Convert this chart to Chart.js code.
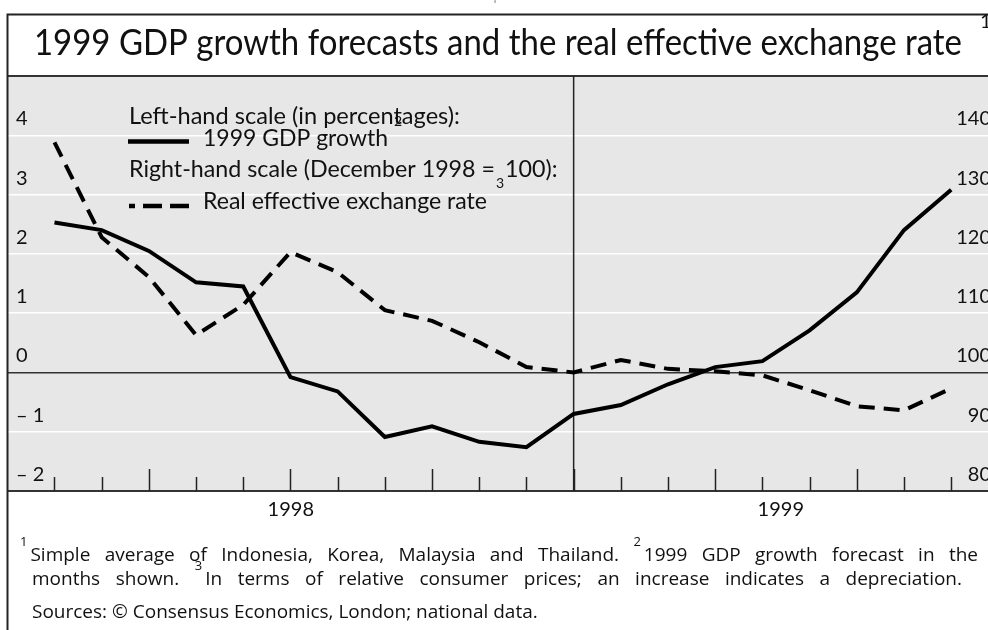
<!DOCTYPE html>
<html><head><meta charset="utf-8">
<script src="https://cdn.jsdelivr.net/npm/chart.js@4.4.1/dist/chart.umd.min.js"></script>
<style>
html,body{margin:0;padding:0;background:#fff;overflow:hidden}
#wrap{position:relative;width:988px;height:630px}
canvas{display:block}
</style>
</head><body><div id="wrap"><canvas id="c" width="988" height="630"></canvas></div>
<script>
// ---- data ----
const months = ['Jan 1998','Feb 1998','Mar 1998','Apr 1998','May 1998','Jun 1998','Jul 1998','Aug 1998','Sep 1998','Oct 1998','Nov 1998','Dec 1998',
                'Jan 1999','Feb 1999','Mar 1999','Apr 1999','May 1999','Jun 1999','Jul 1999','Aug 1999'];
const gdpGrowth = [2.53, 2.40, 2.05, 1.52, 1.45, -0.08, -0.32, -1.09, -0.91, -1.17, -1.26, -0.70,
                   -0.55, -0.20, 0.09, 0.19, 0.71, 1.35, 2.40, 3.08];
const reer = [138.8, 122.8, 116.1, 106.3, 111.4, 120.3, 116.9, 110.5, 108.7, 105.1, 100.9, 100.0,
              102.1, 100.6, 100.2, 99.5, 97.0, 94.3, 93.6, 97.3];
const leftTicks = [4, 3, 2, 1, 0, -1, -2];
const rightTicks = [140, 130, 120, 110, 100, 90, 80];
const yearLabels = ['1998', '1999'];
const baseMonth = 'Dec 1998';

const title = '1999 GDP growth forecasts and the real effective exchange rate';
const FONT = 'Lato, "Open Sans", "Noto Sans", sans-serif';
const FN_FONT = '"Open Sans", "Noto Sans", sans-serif';

function fitText(ctx, text, x, y, size, width, align) {
  ctx.save();
  ctx.font = size + 'px ' + FONT;
  const w = ctx.measureText(text).width;
  const s = width ? width / w : 1;
  ctx.translate(x, y);
  ctx.scale(s, 1);
  ctx.textAlign = align || 'left';
  ctx.textBaseline = 'alphabetic';
  ctx.fillText(text, 0, 0);
  ctx.restore();
  return s;
}
function txt(ctx, text, x, y, size, align, scale, family) {
  ctx.save();
  ctx.font = size + 'px ' + (family || FONT);
  ctx.translate(x, y);
  ctx.scale(scale || 1, 1);
  ctx.textAlign = align || 'left';
  ctx.textBaseline = 'alphabetic';
  ctx.fillText(text, 0, 0);
  ctx.restore();
}
// justified line: words (with optional superscript prefix "^n ") spread between x0 and x1
function justify(ctx, units, x0, x1, y, size, supSize) {
  ctx.save();
  const m = (t, s) => { ctx.font = s + 'px ' + FN_FONT; return ctx.measureText(t).width; };
  const parts = units.map(u => {
    const sup = u.sup || null;
    const sw = sup ? m(sup, supSize) + 3 : 0;
    return {sup, sw, word: u.w, ww: m(u.w, size)};
  });
  const total = parts.reduce((p, c) => p + c.sw + c.ww, 0);
  const gap = parts.length > 1 ? (x1 - x0 - total) / (parts.length - 1) : 0;
  let cx = x0;
  parts.forEach(p => {
    if (p.sup) txt(ctx, p.sup, cx, y - 15, supSize, 'left', 1, FN_FONT);
    txt(ctx, p.word, cx + p.sw, y, size, 'left', 1, FN_FONT);
    cx += p.sw + p.ww + gap;
  });
  ctx.restore();
}
const W = s => s.split(' ').map(w => ({w}));

const decoPlugin = {
  id: 'deco',
  beforeDraw(chart) {
    const {ctx, chartArea: a} = chart;
    ctx.save();
    ctx.fillStyle = '#fff';
    ctx.fillRect(0, 0, chart.width, chart.height);
    ctx.fillStyle = '#e7e7e7';
    ctx.fillRect(a.left, a.top, a.right - a.left, a.bottom - a.top);
    ctx.restore();
  },
  beforeDatasetsDraw(chart) {
    const {ctx, chartArea: a, scales: {x}} = chart;
    ctx.save();
    ctx.strokeStyle = '#222';
    for (let i = 0; i <= months.length; i++) {
      const px = Math.round(x.getPixelForValue(i)) + 0.5;
      if (px > a.right) break;
      const tall = (i % 3) === 2;
      ctx.lineWidth = 1.5;
      ctx.beginPath();
      ctx.moveTo(px, a.bottom);
      ctx.lineTo(px, a.bottom - (tall ? 22 : 14));
      ctx.stroke();
    }
    const bx = x.getPixelForValue(months.indexOf(baseMonth));
    ctx.lineWidth = 1.5;
    ctx.beginPath();
    ctx.moveTo(bx, a.top);
    ctx.lineTo(bx, a.bottom);
    ctx.stroke();
    ctx.restore();
  },
  afterDraw(chart) {
    const {ctx, chartArea: a, scales: {x, y, y2}} = chart;
    ctx.save();
    // frame
    ctx.strokeStyle = '#222';
    ctx.lineWidth = 2;
    ctx.beginPath();
    ctx.moveTo(7.5, 630); ctx.lineTo(7.5, 14.5); ctx.lineTo(988, 14.5);
    ctx.stroke();
    // faint heading at very top (mostly cut off)
    ctx.fillStyle = '#aaa';
    txt(ctx, 'Graph', 468, 0, 16);
    ctx.fillStyle = '#111';
    // title
    fitText(ctx, title, 34, 55, 36, 928);
    txt(ctx, '1', 980, 28, 20);
    // y tick labels
    leftTicks.forEach(v => {
      const py = y.getPixelForValue(v);
      const lab = v < 0 ? '\u2013 ' + Math.abs(v) : String(v);
      txt(ctx, lab, a.left + 8, py - 10, 20);
    });
    rightTicks.forEach(v => {
      const py = y2.getPixelForValue(v);
      txt(ctx, String(v), 991, py - 10, 20, 'right');
    });
    // year labels
    const bx = x.getPixelForValue(months.indexOf(baseMonth));
    txt(ctx, yearLabels[0], (a.left + bx) / 2, 516, 20, 'center');
    txt(ctx, yearLabels[1], (bx + a.right) / 2, 516, 20, 'center');
    // legend
    fitText(ctx, 'Left-hand scale (in percentages):', 129, 124, 23, 331);
    ctx.strokeStyle = '#000';
    ctx.lineWidth = 4.5;
    ctx.beginPath(); ctx.moveTo(128, 141.5); ctx.lineTo(189, 141.5); ctx.stroke();
    fitText(ctx, '1999 GDP growth', 203, 146, 23, 185);
    txt(ctx, '2', 394, 126, 14);
    const s = fitText(ctx, 'Right-hand scale (December 1998 =', 129, 177, 23, 366);
    txt(ctx, '3', 496, 188, 14);
    txt(ctx, '100):', 505, 177, 23, 'left', s);
    ctx.setLineDash([19, 8]);
    ctx.lineDashOffset = 13;
    ctx.beginPath(); ctx.moveTo(129, 206); ctx.lineTo(189, 206); ctx.stroke();
    ctx.setLineDash([]);
    fitText(ctx, 'Real effective exchange rate', 203, 209, 23, 284);
    // footnotes
    const FS = 19;
    const l1 = [{sup: '1', w: 'Simple'}].concat(W('average of Indonesia, Korea, Malaysia and Thailand.'),
               [{sup: '2', w: '1999'}], W('GDP growth forecast in the'));
    justify(ctx, l1, 20, 978, 561, FS, 13);
    const l2 = W('months shown.').concat([{sup: '3', w: 'In'}], W('terms of relative consumer prices; an increase indicates a depreciation.'));
    justify(ctx, l2, 32, 962, 585, FS, 13);
    txt(ctx, 'Sources: \u00A9 Consensus Economics, London; national data.', 32, 618, FS, 'left', 1, FN_FONT);
    ctx.restore();
  }
};

new Chart(document.getElementById('c'), {
  type: 'line',
  data: {
    datasets: [
      {
        label: '1999 GDP growth',
        data: gdpGrowth.map((v, i) => ({x: i, y: v})),
        yAxisID: 'y',
        borderColor: '#000',
        borderWidth: 4,
        pointRadius: 0,
        tension: 0,
        fill: false
      },
      {
        label: 'Real effective exchange rate',
        data: reer.map((v, i) => ({x: i, y: v})),
        yAxisID: 'y2',
        borderColor: '#000',
        borderWidth: 4,
        borderDash: [16, 9],
        pointRadius: 0,
        tension: 0,
        fill: false
      }
    ]
  },
  options: {
    responsive: false,
    animation: false,
    devicePixelRatio: 1,
    layout: {padding: {left: 8, right: 0, top: 76, bottom: 139}},
    plugins: {legend: {display: false}, tooltip: {enabled: false}, title: {display: false}},
    scales: {
      x: {type: 'linear', min: -0.985, max: 19.78, display: false},
      y: {
        position: 'left', min: -2, max: 5,
        ticks: {display: false, stepSize: 1},
        border: {display: false},
        grid: {
          drawTicks: false,
          color: c => (c.tick.value === 0 || c.tick.value === -2 || c.tick.value === 5) ? '#333' : '#ffffff',
          lineWidth: c => (c.tick.value === 5 || c.tick.value === -2) ? 2 : 1.5
        }
      },
      y2: {
        position: 'right', min: 80, max: 150,
        ticks: {display: false, stepSize: 10},
        border: {display: false},
        grid: {display: false, drawTicks: false}
      }
    }
  },
  plugins: [decoPlugin]
});
</script>
</body></html>
